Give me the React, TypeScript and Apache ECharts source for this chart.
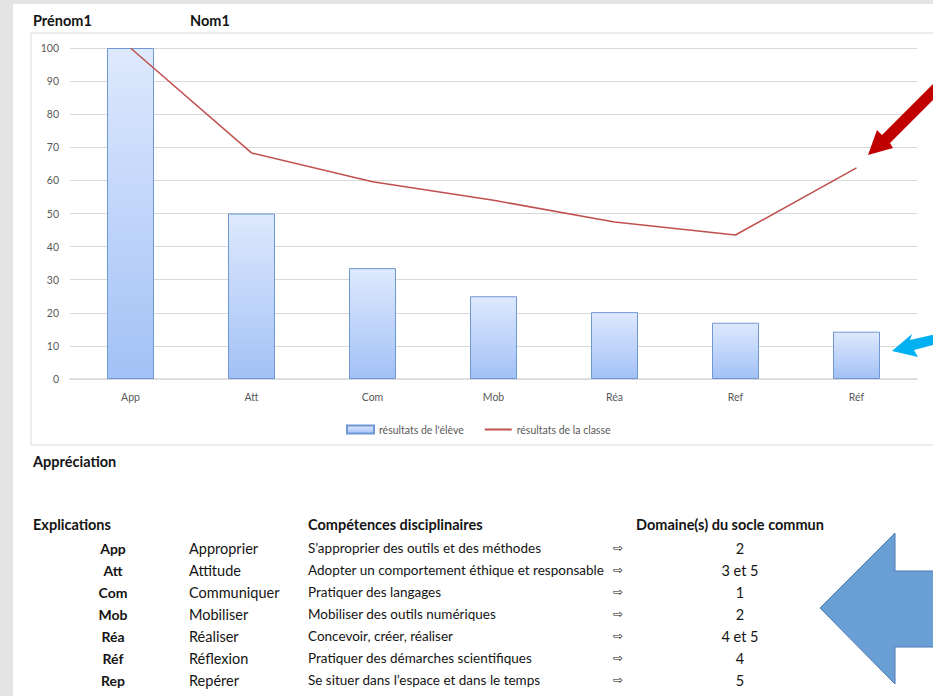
import React, { useEffect, useRef } from "react";
import * as echarts from "echarts";

const categories = ["App", "Att", "Com", "Mob", "Réa", "Ref", "Réf"];
const eleveValues = [100, 50, 33.5, 25, 20.2, 17, 14.3];
const classeValues = [100, 68.3, 59.6, 54, 47.4, 43.5, 63.8];
const yTicks = { min: 0, max: 100, interval: 10 };

const abbrevs = ["App", "Att", "Com", "Mob", "Réa", "Réf", "Rep"];
const verbs = ["Approprier", "Attitude", "Communiquer", "Mobiliser", "Réaliser", "Réflexion", "Repérer"];
const competences = [
  "S’approprier des outils et des méthodes",
  "Adopter un comportement éthique et responsable",
  "Pratiquer des langages",
  "Mobiliser des outils numériques",
  "Concevoir, créer, réaliser",
  "Pratiquer des démarches scientifiques",
  "Se situer dans l’espace et dans le temps",
];
const domaines = ["2", "3 et 5", "1", "2", "4 et 5", "4", "5"];

const FONT = "Lato, 'Open Sans', sans-serif";

export default function App() {
  const ref = useRef<HTMLDivElement>(null);
  useEffect(() => {
    if (!ref.current) return;
    const chart = echarts.init(ref.current, undefined, { renderer: "svg" });

    const graphics: any[] = [
      { type: "rect", shape: { x: 0, y: 0, width: 933, height: 4 }, style: { fill: "#e4e4e4" }, silent: true, z: -10 },
      { type: "rect", shape: { x: 0, y: 0, width: 13, height: 696 }, style: { fill: "#e4e4e4" }, silent: true, z: -10 },
      { type: "rect", shape: { x: 31, y: 33, width: 920, height: 412 }, style: { fill: "#ffffff", stroke: "#d9d9d9", lineWidth: 1 }, silent: true, z: -9 },
      { type: "text", x: 33, y: 20, style: { text: "Prénom1", font: `bold 14.5px ${FONT}`, fill: "#141414", verticalAlign: "middle" } },
      { type: "text", x: 190, y: 20, style: { text: "Nom1", font: `bold 14.5px ${FONT}`, fill: "#141414", verticalAlign: "middle" } },
      { type: "text", x: 33, y: 461, style: { text: "Appréciation", font: `bold 14.5px ${FONT}`, fill: "#141414", verticalAlign: "middle" } },
      { type: "text", x: 33, y: 524, style: { text: "Explications", font: `bold 14.5px ${FONT}`, fill: "#141414", verticalAlign: "middle" } },
      { type: "text", x: 308, y: 524, style: { text: "Compétences disciplinaires", font: `bold 14.5px ${FONT}`, fill: "#141414", verticalAlign: "middle" } },
      { type: "text", x: 636, y: 524, style: { text: "Domaine(s) du socle commun", font: `bold 14.5px ${FONT}`, fill: "#141414", verticalAlign: "middle" } },
    ];
    abbrevs.forEach((a, i) => {
      const y = 548 + i * 22;
      graphics.push({ type: "text", x: 113, y, style: { text: a, font: `bold 14px ${FONT}`, fill: "#141414", align: "center", verticalAlign: "middle" } });
      graphics.push({ type: "text", x: 189, y, style: { text: verbs[i], font: `14.5px ${FONT}`, fill: "#141414", verticalAlign: "middle" } });
      graphics.push({ type: "text", x: 308, y, style: { text: competences[i], font: `13.5px ${FONT}`, fill: "#141414", verticalAlign: "middle" } });
      graphics.push({ type: "text", x: 618, y, style: { text: "⇨", font: `12px 'DejaVu Sans', sans-serif`, fill: "#141414", align: "center", verticalAlign: "middle" } });
      graphics.push({ type: "text", x: 740, y, style: { text: domaines[i], font: `14.5px ${FONT}`, fill: "#141414", align: "center", verticalAlign: "middle" } });
    });
    graphics.push({
      type: "polygon",
      shape: { points: [[820, 608], [895, 533], [895, 571], [945, 571], [945, 647], [895, 647], [895, 684]] },
      style: { fill: "#6a9fd5", stroke: "#4a7bb5", lineWidth: 1 },
      z: 10,
    });
    graphics.push({
      type: "polygon",
      shape: { points: [[868, 155], [877, 130], [882, 135], [938, 79], [946, 87], [890, 143], [893, 148]] },
      style: { fill: "#c00000" },
      z: 10,
    });
    graphics.push({
      type: "polygon",
      shape: { points: [[892, 351], [912, 334], [910, 340], [940, 333], [940, 343], [914, 350], [918, 357]] },
      style: { fill: "#00b0f0" },
      z: 10,
    });

    chart.setOption({
      animation: false,
      textStyle: { fontFamily: FONT },
      grid: { left: 70, right: 16, top: 48, bottom: 317, containLabel: false },
      legend: {
        left: 341,
        top: 419,
        itemWidth: 27,
        itemHeight: 8,
        itemGap: 20,
        textStyle: { fontSize: 10.5, color: "#595959", fontFamily: FONT },
        data: [
          { name: "résultats de l'élève", icon: "rect" },
          { name: "résultats de la classe", itemStyle: { opacity: 0 } },
        ],
      },
      xAxis: {
        type: "category",
        data: categories,
        boundaryGap: true,
        axisLine: { lineStyle: { color: "#d9d9d9", width: 1.5 } },
        axisTick: { show: false },
        axisLabel: { fontSize: 10.5, color: "#595959", margin: 12 },
      },
      yAxis: {
        type: "value",
        min: yTicks.min,
        max: yTicks.max,
        interval: yTicks.interval,
        axisLine: { show: false },
        axisTick: { show: false },
        axisLabel: { fontSize: 10.5, color: "#595959", margin: 11 },
        splitLine: { lineStyle: { color: "#d9d9d9", width: 1 } },
      },
      series: [
        {
          name: "résultats de l'élève",
          type: "bar",
          data: eleveValues,
          barWidth: 47,
          itemStyle: {
            color: new echarts.graphic.LinearGradient(0, 0, 0, 1, [
              { offset: 0, color: "#dde9fd" },
              { offset: 1, color: "#a3c1f6" },
            ]),
            borderColor: "#6f97d4",
            borderWidth: 1,
          },
        },
        {
          name: "résultats de la classe",
          type: "line",
          data: classeValues,
          symbol: "none",
          showSymbol: false,
          lineStyle: { color: "#c0504d", width: 1.5 },
          itemStyle: { color: "#c0504d" },
          z: 5,
        },
      ],
      graphic: graphics,
    });
    return () => chart.dispose();
  }, []);
  return <div ref={ref} style={{ position: "fixed", left: 0, top: 0, width: 933, height: 696, background: "#ffffff" }} />;
}
